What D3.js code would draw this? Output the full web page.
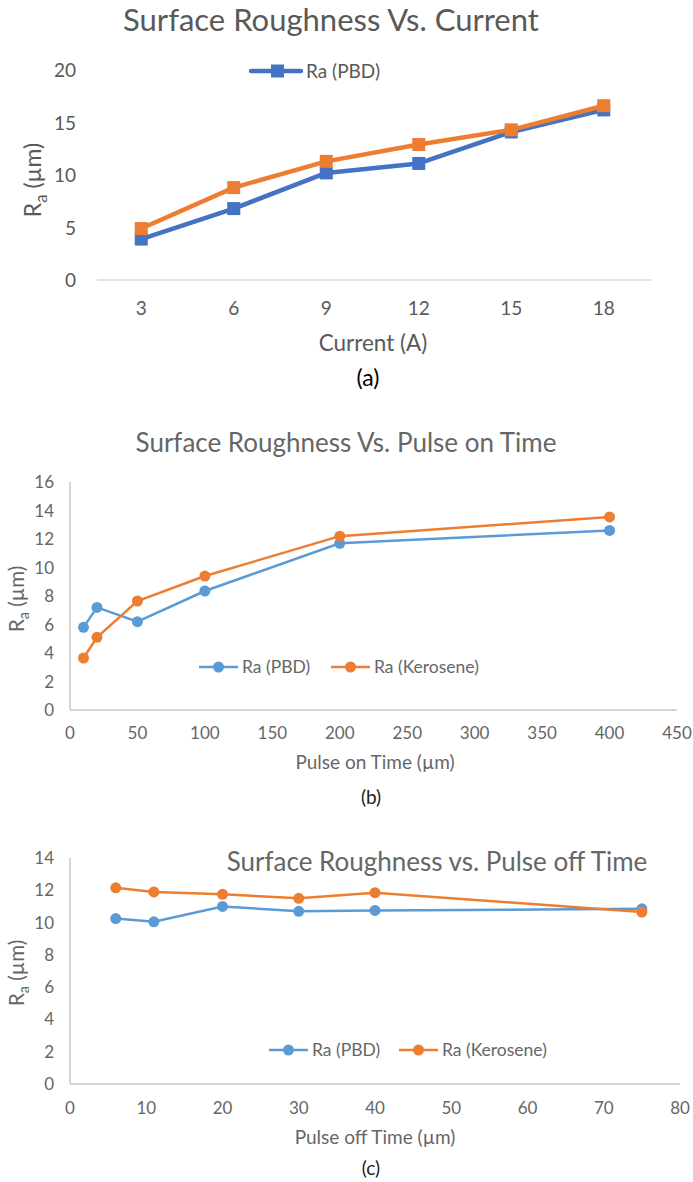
<!DOCTYPE html>
<html>
<head>
<meta charset="utf-8">
<script src="https://cdn.jsdelivr.net/npm/d3@7"></script>
<style>
  body { margin: 0; background: #fff; }
  svg { display: block; font-family: Lato, "Open Sans", sans-serif; }
</style>
</head>
<body>
<svg id="fig" width="693" height="1182"></svg>
<script>
'use strict';

// (a) current
const currentCats    = [ '3', '6', '9', '12', '15', '18' ];
const raPbdCurrent   = [ 3.9, 6.8, 10.2, 11.1, 14.1, 16.2 ];
const raKeroCurrent  = [ 4.9, 8.8, 11.3, 12.9, 14.3, 16.6 ];
const currentYTicks  = [ 0, 5, 10, 15, 20 ];

// (b) pulse on time
const pulseOn        = [ 10, 20, 50, 100, 200, 400 ];
const raPbdOn        = [ 5.8, 7.2, 6.2, 8.35, 11.7, 12.6 ];
const raKeroOn       = [ 3.65, 5.1, 7.65, 9.4, 12.2, 13.55 ];
const onXTicks       = [ 0, 50, 100, 150, 200, 250, 300, 350, 400, 450 ];
const onYTicks       = [ 0, 2, 4, 6, 8, 10, 12, 14, 16 ];

// (c) pulse off time
const pulseOff       = [ 6, 11, 20, 30, 40, 75 ];
const raPbdOff       = [ 10.25, 10.05, 11.0, 10.7, 10.75, 10.85 ];
const raKeroOff      = [ 12.15, 11.9, 11.75, 11.5, 11.85, 10.65 ];
const offXTicks      = [ 0, 10, 20, 30, 40, 50, 60, 70, 80 ];
const offYTicks      = [ 0, 2, 4, 6, 8, 10, 12, 14 ];

const svg = d3.select( '#fig' );
const grey = '#595959';

// y label with subscript a
function raLabel( g, x, y, size, col ) {
  const t = g.append( 'text' )
    .attr( 'transform', `translate(${x},${y}) rotate(-90)` )
    .attr( 'text-anchor', 'middle' )
    .style( 'font-size', size + 'px' )
    .style( 'fill', col );
  t.append( 'tspan' ).text( 'R' );
  t.append( 'tspan' ).attr( 'dy', size * 0.25 ).style( 'font-size', ( size * 0.72 ) + 'px' ).text( 'a' );
  t.append( 'tspan' ).attr( 'dy', -size * 0.25 ).text( ' (µm)' );
}

/* ---------- chart (a) ---------- */
{
  const g = svg.append( 'g' );
  const x = d3.scaleBand().domain( currentCats ).range( [ 95, 650 ] );
  const y = d3.scaleLinear().domain( [ 0, 20 ] ).range( [ 280, 70 ] );
  const cx = d => x( d ) + x.bandwidth() / 2;

  g.append( 'text' )
    .attr( 'x', 331 ).attr( 'y', 31 )
    .attr( 'text-anchor', 'middle' )
    .style( 'font-size', '31px' ).style( 'fill', grey )
    .text( 'Surface Roughness Vs. Current' );

  g.append( 'line' )
    .attr( 'x1', 97 ).attr( 'x2', 651 )
    .attr( 'y1', y( 0 ) ).attr( 'y2', y( 0 ) )
    .style( 'stroke', '#d9d9d9' ).style( 'stroke-width', 1.5 );

  g.selectAll( '.yt' ).data( currentYTicks ).enter().append( 'text' )
    .attr( 'x', 76 ).attr( 'y', d => y( d ) + 7 )
    .attr( 'text-anchor', 'end' )
    .style( 'font-size', '19px' ).style( 'fill', grey )
    .text( d => d );

  g.selectAll( '.xt' ).data( currentCats ).enter().append( 'text' )
    .attr( 'x', cx ).attr( 'y', 315 )
    .attr( 'text-anchor', 'middle' )
    .style( 'font-size', '19px' ).style( 'fill', grey )
    .text( d => d );

  g.append( 'text' )
    .attr( 'x', 373 ).attr( 'y', 351 )
    .attr( 'text-anchor', 'middle' )
    .style( 'font-size', '22.5px' ).style( 'fill', grey )
    .text( 'Current (A)' );

  g.append( 'text' )
    .attr( 'x', 368 ).attr( 'y', 386 )
    .attr( 'text-anchor', 'middle' )
    .style( 'font-size', '23px' ).style( 'fill', '#000' )
    .text( '(a)' );

  raLabel( g, 41, 180, 23, grey );

  const series = [
    { vals: raPbdCurrent, color: '#4472C4' },
    { vals: raKeroCurrent, color: '#ED7D31' }
  ];
  const line = d3.line().x( d => cx( d.c ) ).y( d => y( d.v ) );
  series.forEach( s => {
    const pts = currentCats.map( ( c, i ) => ( { c, v: s.vals[ i ] } ) );
    g.append( 'path' ).datum( pts )
      .attr( 'd', line )
      .style( 'fill', 'none' ).style( 'stroke', s.color ).style( 'stroke-width', 4.5 )
      .style( 'stroke-linejoin', 'round' );
    g.selectAll( null ).data( pts ).enter().append( 'rect' )
      .attr( 'x', d => cx( d.c ) - 6.5 ).attr( 'y', d => y( d.v ) - 6.5 )
      .attr( 'width', 13 ).attr( 'height', 13 )
      .style( 'fill', s.color );
  } );

  // legend (PBD only)
  const lg = g.append( 'g' ).attr( 'transform', 'translate(251,71)' );
  lg.append( 'line' ).attr( 'x1', 0 ).attr( 'x2', 50 )
    .style( 'stroke', '#4472C4' ).style( 'stroke-width', 4.5 ).style( 'stroke-linecap', 'round' );
  lg.append( 'rect' ).attr( 'x', 20 ).attr( 'y', -6.5 ).attr( 'width', 13 ).attr( 'height', 13 )
    .style( 'fill', '#4472C4' );
  lg.append( 'text' ).attr( 'x', 55 ).attr( 'y', 7 )
    .style( 'font-size', '19px' ).style( 'fill', grey )
    .text( 'Ra (PBD)' );
}

/* ---------- charts (b) and (c) ---------- */
function scatterChart( p ) {
  const g = svg.append( 'g' );
  const x = d3.scaleLinear().domain( p.xDomain ).range( p.xRange );
  const y = d3.scaleLinear().domain( p.yDomain ).range( p.yRange );
  const axisCol = '#d4d4d4', txt = '#666';

  g.append( 'line' )
    .attr( 'x1', x( p.xDomain[0] ) ).attr( 'x2', x( p.xDomain[0] ) )
    .attr( 'y1', y( p.yDomain[1] ) ).attr( 'y2', y( 0 ) )
    .style( 'stroke', axisCol ).style( 'stroke-width', 2 );
  g.append( 'line' )
    .attr( 'x1', x( p.xDomain[0] ) ).attr( 'x2', x( p.xDomain[1] ) )
    .attr( 'y1', y( 0 ) ).attr( 'y2', y( 0 ) )
    .style( 'stroke', axisCol ).style( 'stroke-width', 2 );

  g.selectAll( '.yt' ).data( p.yTicks ).enter().append( 'text' )
    .attr( 'x', 54 ).attr( 'y', d => y( d ) + 6 )
    .attr( 'text-anchor', 'end' )
    .style( 'font-size', '17px' ).style( 'fill', txt )
    .text( d => d );

  g.selectAll( '.xt' ).data( p.xTicks ).enter().append( 'text' )
    .attr( 'x', d => x( d ) ).attr( 'y', p.xTickY )
    .attr( 'text-anchor', 'middle' )
    .style( 'font-size', '17px' ).style( 'fill', txt )
    .text( d => d );

  g.append( 'text' )
    .attr( 'x', p.title.x ).attr( 'y', p.title.y )
    .attr( 'text-anchor', 'middle' )
    .style( 'font-size', p.title.size + 'px' ).style( 'fill', txt )
    .text( p.title.text );

  g.append( 'text' )
    .attr( 'x', 375 ).attr( 'y', p.xLabelY )
    .attr( 'text-anchor', 'middle' )
    .style( 'font-size', '19px' ).style( 'fill', txt )
    .text( p.xLabel );

  g.append( 'text' )
    .attr( 'x', 371 ).attr( 'y', p.capY )
    .attr( 'text-anchor', 'middle' )
    .style( 'font-size', '19px' ).style( 'fill', '#222' )
    .text( p.caption );

  raLabel( g, 24, p.yLabelY, 20.5, txt );

  const line = d3.line().x( d => x( d.x ) ).y( d => y( d.v ) );
  p.series.forEach( s => {
    const pts = p.xs.map( ( xv, i ) => ( { x: xv, v: s.vals[ i ] } ) );
    g.append( 'path' ).datum( pts )
      .attr( 'd', line )
      .style( 'fill', 'none' ).style( 'stroke', s.color ).style( 'stroke-width', 2.5 );
    g.selectAll( null ).data( pts ).enter().append( 'circle' )
      .attr( 'cx', d => x( d.x ) ).attr( 'cy', d => y( d.v ) ).attr( 'r', 5.5 )
      .style( 'fill', s.color );
  } );

  p.series.forEach( ( s, i ) => {
    const lx = p.legend.x[ i ];
    const lg = g.append( 'g' ).attr( 'transform', `translate(${lx},${p.legend.y})` );
    lg.append( 'line' ).attr( 'x1', 0 ).attr( 'x2', 39 )
      .style( 'stroke', s.color ).style( 'stroke-width', 2.5 );
    lg.append( 'circle' ).attr( 'cx', 19.5 ).attr( 'r', 5.5 ).style( 'fill', s.color );
    lg.append( 'text' ).attr( 'x', 43 ).attr( 'y', 6 )
      .style( 'font-size', '17.5px' ).style( 'fill', txt )
      .text( s.name );
  } );
}

scatterChart( {
  xDomain: [ 0, 450 ], xRange: [ 70, 677 ],
  yDomain: [ 0, 16 ],  yRange: [ 710, 482 ],
  xTicks: onXTicks, yTicks: onYTicks, xTickY: 739,
  xs: pulseOn,
  series: [
    { name: 'Ra (PBD)', vals: raPbdOn, color: '#5B9BD5' },
    { name: 'Ra (Kerosene)', vals: raKeroOn, color: '#ED7D31' }
  ],
  title: { text: 'Surface Roughness Vs. Pulse on Time', x: 346, y: 452, size: 26 },
  xLabel: 'Pulse on Time (µm)', xLabelY: 769,
  caption: '(b)', capY: 804,
  yLabelY: 599,
  legend: { x: [ 199, 331 ], y: 667 }
} );

scatterChart( {
  xDomain: [ 0, 80 ], xRange: [ 70, 680 ],
  yDomain: [ 0, 14 ], yRange: [ 1084, 858 ],
  xTicks: offXTicks, yTicks: offYTicks, xTickY: 1114,
  xs: pulseOff,
  series: [
    { name: 'Ra (PBD)', vals: raPbdOff, color: '#5B9BD5' },
    { name: 'Ra (Kerosene)', vals: raKeroOff, color: '#ED7D31' }
  ],
  title: { text: 'Surface Roughness vs. Pulse off Time', x: 437, y: 871, size: 26 },
  xLabel: 'Pulse off Time (µm)', xLabelY: 1144,
  caption: '(c)', capY: 1175,
  yLabelY: 973,
  legend: { x: [ 269, 399 ], y: 1050 }
} );
</script>
</body>
</html>
